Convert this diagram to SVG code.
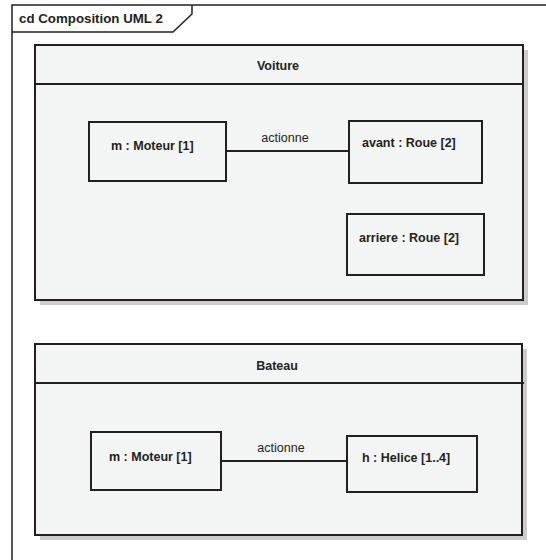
<svg xmlns="http://www.w3.org/2000/svg" width="546" height="560" viewBox="0 0 546 560">
<style>
.b{font-family:"Liberation Sans",Arial,sans-serif;font-weight:bold;font-size:12.5px;fill:#231f20}
.r{font-family:"Liberation Sans",Arial,sans-serif;font-size:12.5px;fill:#231f20}
.box{fill:none;stroke:#231f20;stroke-width:2}
.cont{fill:#f3f4f4;stroke:#231f20;stroke-width:2}
.sh{fill:#cccccc}
.ln{stroke:#231f20;stroke-width:2;fill:none}
</style>
<rect width="546" height="560" fill="#ffffff"/>
<g id="frame">
<path d="M12 560 V5 H546" fill="none" stroke="#231f20" stroke-width="1.5"/>
<path d="M12 32 H173 L192 14 V5" fill="none" stroke="#231f20" stroke-width="1.5"/>
<text class="b" x="19" y="23" style="font-size:13.3px">cd Composition UML 2</text>
</g>
<g id="voiture">
<rect class="sh" x="40" y="50" width="488" height="255"/>
<rect class="cont" x="35" y="45" width="488" height="255"/>
<line class="ln" x1="35" y1="84" x2="523" y2="84"/>
<text class="b" x="278" y="70" text-anchor="middle">Voiture</text>
</g>
<g id="voiture-moteur">
<rect class="box" x="89" y="122" width="137" height="59"/>
<text class="b" x="111" y="150">m : Moteur [1]</text>
</g>
<g id="voiture-avant">
<rect class="box" x="349" y="121" width="133" height="62"/>
<text class="b" x="362" y="147">avant : Roue [2]</text>
</g>
<g id="voiture-arriere">
<rect class="box" x="347" y="214" width="137" height="61"/>
<text class="b" x="359" y="242">arriere : Roue [2]</text>
</g>
<g id="bateau">
<rect class="sh" x="40" y="349" width="487" height="191"/>
<rect class="cont" x="35" y="344" width="487" height="191"/>
<line class="ln" x1="35" y1="383" x2="524" y2="383"/>
<text class="b" x="277" y="370" text-anchor="middle">Bateau</text>
</g>
<g id="bateau-moteur">
<rect class="box" x="91" y="432" width="130" height="58"/>
<text class="b" x="109" y="461">m : Moteur [1]</text>
</g>
<g id="bateau-helice">
<rect class="box" x="347" y="436" width="130" height="56"/>
<text class="b" x="362" y="462">h : Helice [1..4]</text>
</g>
<g id="connectors">
<line class="ln" x1="226" y1="151" x2="349" y2="151"/>
<text class="r" x="285" y="142" text-anchor="middle">actionne</text>
<line class="ln" x1="221" y1="461" x2="347" y2="461"/>
<text class="r" x="281" y="452" text-anchor="middle">actionne</text>
</g>
</svg>
